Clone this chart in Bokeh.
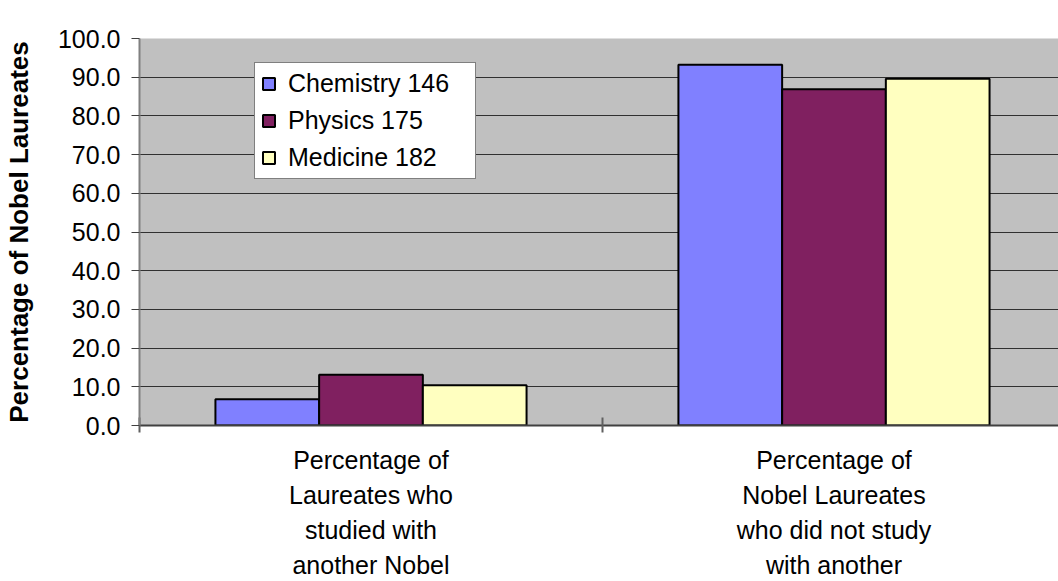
from bokeh.plotting import figure
from bokeh.models import ColumnDataSource, Range1d, FixedTicker, NumeralTickFormatter
from bokeh.transform import dodge
from bokeh.embed import file_html
from bokeh.resources import INLINE

# ---- data ----
categories = [
    "Percentage of\nLaureates who\nstudied with\nanother Nobel",
    "Percentage of\nNobel Laureates\nwho did not study\nwith another",
]
cat_pos = [0.5, 1.5]
chemistry = [6.8, 93.2]
physics = [13.1, 86.9]
medicine = [10.4, 89.6]
series_names = ["Chemistry 146", "Physics 175", "Medicine 182"]
series_colors = ["#8080FF", "#802060", "#FFFFC0"]
y_ticks = [0, 10, 20, 30, 40, 50, 60, 70, 80, 90, 100]

FONT = "Liberation Sans"

src = ColumnDataSource(dict(x=cat_pos, chem=chemistry, phys=physics, med=medicine))

p = figure(width=1058, height=581, output_backend="svg", toolbar_location=None,
           x_range=Range1d(0, 921 / 464), y_range=Range1d(0, 100),
           min_border_left=137, min_border_right=0, min_border_top=38, min_border_bottom=156)
p.background_fill_color = "#C0C0C0"
p.border_fill_color = "white"
p.outline_line_color = None

w = 0.224
for key, off, name, col in zip(["chem", "phys", "med"], [-w, 0, w], series_names, series_colors):
    p.vbar(x=dodge("x", off, range=p.x_range), top=key, width=w, source=src,
           fill_color=col, line_color="black", line_width=2, legend_label=name)

# grid
p.xgrid.visible = False
p.ygrid.ticker = FixedTicker(ticks=y_ticks)
p.ygrid.grid_line_color = "#303030"
p.ygrid.grid_line_width = 1.2

# y axis
ya = p.yaxis[0]
ya.ticker = FixedTicker(ticks=y_ticks)
ya.formatter = NumeralTickFormatter(format="0.0")
ya.axis_line_color = "#808080"
ya.axis_line_width = 2
ya.major_tick_line_color = "#404040"
ya.major_tick_out = 8
ya.major_tick_in = 0
ya.minor_tick_line_color = None
ya.major_label_text_font = FONT
ya.major_label_text_font_size = "25px"
ya.major_label_text_color = "black"
ya.major_label_standoff = 11
ya.axis_label = "Percentage of Nobel Laureates"
ya.axis_label_text_font = FONT
ya.axis_label_text_font_size = "26px"
ya.axis_label_text_font_style = "bold"
ya.axis_label_text_color = "black"
ya.axis_label_standoff = 21

# x axis
xa = p.xaxis[0]
xa.ticker = FixedTicker(ticks=cat_pos, minor_ticks=[0, 1, 2])
xa.major_label_overrides = {pos: lab for pos, lab in zip(cat_pos, categories)}
xa.axis_line_color = "#404040"
xa.axis_line_width = 2
xa.major_tick_line_color = None
xa.major_tick_in = 0
xa.major_tick_out = 0
xa.minor_tick_line_color = "#606060"
xa.minor_tick_line_width = 2
xa.minor_tick_in = 8
xa.minor_tick_out = 7
xa.major_label_text_font = FONT
xa.major_label_text_font_size = "25px"
xa.major_label_text_color = "black"
xa.major_label_text_line_height = 1.25
xa.major_label_standoff = 13

# legend
lg = p.legend[0]
lg.location = (115, 246)
lg.label_text_font = FONT
lg.label_text_font_size = "25px"
lg.label_text_color = "black"
lg.glyph_width = 15
lg.glyph_height = 15
lg.label_standoff = 12
lg.padding = 6
lg.margin = 0
lg.spacing = 8
lg.label_height = 25
lg.label_width = 181
lg.border_line_color = "black"
lg.border_line_width = 1
lg.background_fill_color = "white"
lg.background_fill_alpha = 1.0

open("out.html", "w").write(file_html(p, INLINE))
